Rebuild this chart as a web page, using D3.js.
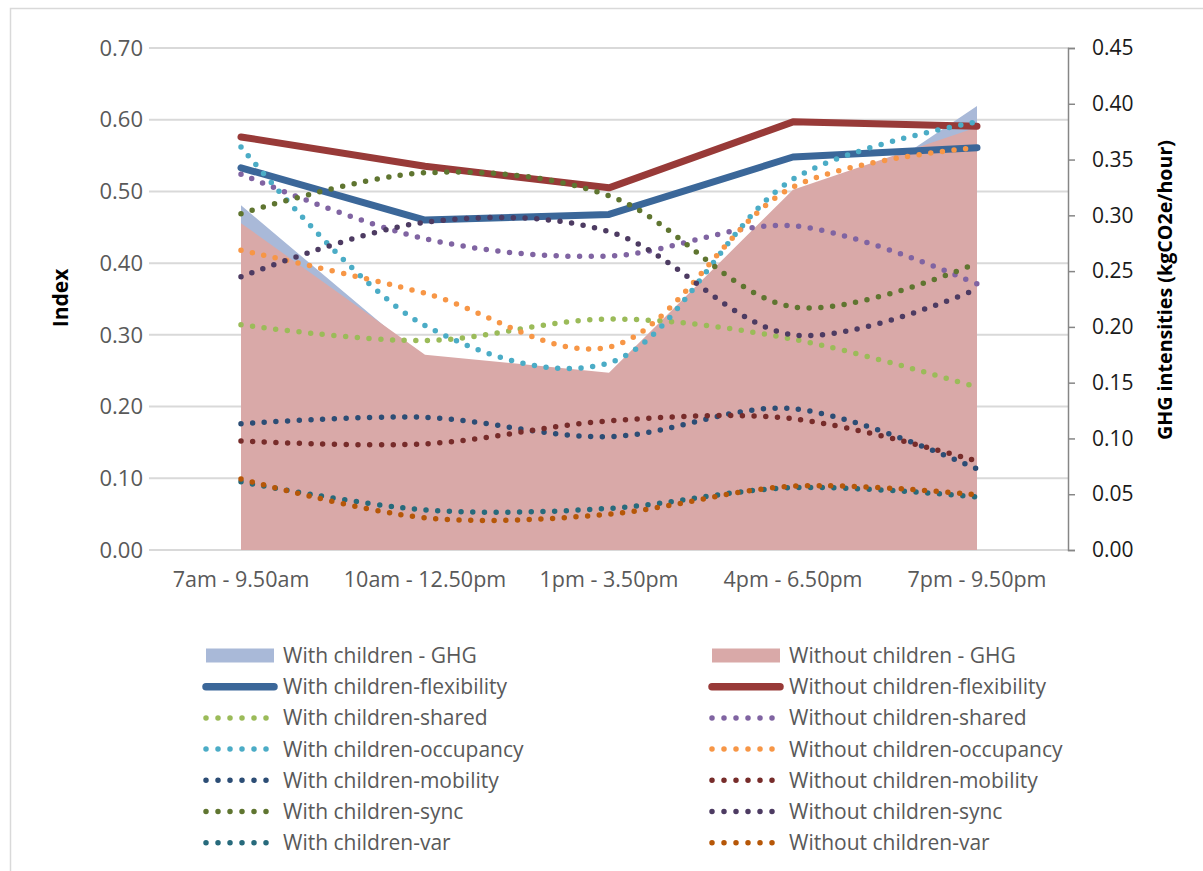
<!DOCTYPE html>
<html>
<head>
<meta charset="utf-8">
<script src="https://cdn.jsdelivr.net/npm/d3@7"></script>
<style>
  body { margin: 0; background: #fff; }
  text { font-family: "Open Sans", sans-serif; }
</style>
</head>
<body>
<div id="chart"></div>
<script>
// categories on the x axis
var categories = ["7am - 9.50am", "10am - 12.50pm", "1pm - 3.50pm", "4pm - 6.50pm", "7pm - 9.50pm"];

// GHG intensities (right axis)
var ghgWith = [0.309, 0.170, 0.150, 0.287, 0.398];
var ghgWithout = [0.293, 0.175, 0.159, 0.323, 0.379];

// index values (left axis)
var flexWith = [0.533, 0.460, 0.468, 0.548, 0.561];
var flexWithout = [0.576, 0.535, 0.505, 0.597, 0.591];
var sharedWith = [0.314, 0.292, 0.322, 0.294, 0.227];
var sharedWithout = [0.524, 0.434, 0.410, 0.452, 0.371];
var occWith = [0.562, 0.313, 0.261, 0.517, 0.597];
var occWithout = [0.418, 0.358, 0.283, 0.506, 0.561];
var mobWith = [0.176, 0.185, 0.158, 0.197, 0.113];
var mobWithout = [0.152, 0.148, 0.180, 0.183, 0.124];
var syncWith = [0.469, 0.526, 0.494, 0.339, 0.400];
var syncWithout = [0.381, 0.457, 0.444, 0.300, 0.364];
var varWith = [0.095, 0.056, 0.058, 0.087, 0.074];
var varWithout = [0.099, 0.045, 0.050, 0.089, 0.077];

// tick labels
var leftTicks = [0, 0.1, 0.2, 0.3, 0.4, 0.5, 0.6, 0.7];
var rightTicks = [0, 0.05, 0.1, 0.15, 0.2, 0.25, 0.3, 0.35, 0.4, 0.45];

// series list, in drawing order (with / without pairs like the legend)
var areas = [
  {name: "With children - GHG", values: ghgWith, color: "#a9b9d8"},
  {name: "Without children - GHG", values: ghgWithout, color: "#d9a9a8"}
];
var lines = [
  {name: "With children-flexibility", values: flexWith, color: "#3b6799", solid: true},
  {name: "Without children-flexibility", values: flexWithout, color: "#983a38", solid: true},
  {name: "With children-shared", values: sharedWith, color: "#9bbb59"},
  {name: "Without children-shared", values: sharedWithout, color: "#8064a2"},
  {name: "With children-occupancy", values: occWith, color: "#4bacc6"},
  {name: "Without children-occupancy", values: occWithout, color: "#f79646"},
  {name: "With children-mobility", values: mobWith, color: "#2c4d75"},
  {name: "Without children-mobility", values: mobWithout, color: "#772c2a"},
  {name: "With children-sync", values: syncWith, color: "#5f7530"},
  {name: "Without children-sync", values: syncWithout, color: "#4d3b62"},
  {name: "With children-var", values: varWith, color: "#276a7c"},
  {name: "Without children-var", values: varWithout, color: "#b65708"}
];

var W = 1203, H = 871;
var plot = {left: 149, right: 1069, top: 48, bottom: 550};

var svg = d3.select("#chart").append("svg")
  .attr("width", W)
  .attr("height", H);

// outer frame
svg.append("rect")
  .attr("x", 10.5).attr("y", 8.5)
  .attr("width", W).attr("height", H)
  .attr("fill", "none")
  .attr("stroke", "#d9d9d9")
  .attr("stroke-width", 1.5);

var x = d3.scalePoint().domain(categories).range([plot.left, plot.right]).padding(0.5);
var yL = d3.scaleLinear().domain([0, 0.7]).range([plot.bottom, plot.top]);
var yR = d3.scaleLinear().domain([0, 0.45]).range([plot.bottom, plot.top]);

// gridlines from the left axis
svg.append("g")
  .selectAll("line")
  .data(leftTicks)
  .enter().append("line")
  .attr("x1", plot.left).attr("x2", plot.right)
  .attr("y1", function(d){ return yL(d); })
  .attr("y2", function(d){ return yL(d); })
  .attr("stroke", "#d9d9d9")
  .attr("stroke-width", 2);

// left axis labels
svg.append("g")
  .selectAll("text")
  .data(leftTicks)
  .enter().append("text")
  .attr("x", 143)
  .attr("y", function(d){ return yL(d); })
  .attr("dy", "0.35em")
  .attr("text-anchor", "end")
  .attr("font-size", 22)
  .attr("fill", "#595959")
  .text(function(d){ return d3.format(".2f")(d); });

// right axis with outward ticks
var rightAxis = d3.axisRight(yR)
  .tickValues(rightTicks)
  .tickSize(7)
  .tickPadding(17)
  .tickFormat(d3.format(".2f"));

var gR = svg.append("g")
  .attr("transform", "translate(" + (plot.right - 1) + ",0)")
  .call(rightAxis);
gR.select(".domain").attr("stroke", "#868686").attr("stroke-width", 1.5);
gR.selectAll(".tick line").attr("stroke", "#868686").attr("stroke-width", 1.5);
gR.selectAll(".tick text")
  .attr("font-family", "Open Sans, sans-serif")
  .attr("font-size", 21)
  .attr("fill", "#1a1a1a");

// GHG areas
var area = d3.area()
  .x(function(d, i){ return x(categories[i]); })
  .y0(yR(0))
  .y1(function(d){ return yR(d); });

svg.append("g")
  .selectAll("path")
  .data(areas)
  .enter().append("path")
  .attr("d", function(d){ return area(d.values); })
  .attr("fill", function(d){ return d.color; });

// index lines: flexibility straight, the others smoothed and dotted
var straight = d3.line()
  .x(function(d, i){ return x(categories[i]); })
  .y(function(d){ return yL(d); });
var smooth = d3.line()
  .x(function(d, i){ return x(categories[i]); })
  .y(function(d){ return yL(d); })
  .curve(d3.curveCatmullRom.alpha(0.5));

svg.append("g")
  .selectAll("path")
  .data(lines)
  .enter().append("path")
  .attr("d", function(d){ return d.solid ? straight(d.values) : smooth(d.values); })
  .attr("fill", "none")
  .attr("stroke", function(d){ return d.color; })
  .attr("stroke-width", function(d){ return d.solid ? 7 : 5.5; })
  .attr("stroke-linecap", "round")
  .attr("stroke-linejoin", "round")
  .attr("stroke-dasharray", function(d){ return d.solid ? null : "0 11.7"; });

// category labels
svg.append("g")
  .selectAll("text")
  .data(categories)
  .enter().append("text")
  .attr("x", function(d){ return x(d); })
  .attr("y", 587)
  .attr("text-anchor", "middle")
  .attr("font-size", 21.5)
  .attr("fill", "#595959")
  .text(function(d){ return d; });

// axis titles
svg.append("text")
  .attr("transform", "translate(68,298) rotate(-90)")
  .attr("text-anchor", "middle")
  .attr("font-size", 21)
  .attr("font-weight", "bold")
  .attr("fill", "#000")
  .text("Index");

svg.append("text")
  .attr("transform", "translate(1172,290) rotate(-90)")
  .attr("text-anchor", "middle")
  .attr("font-size", 20)
  .attr("font-weight", "bold")
  .attr("fill", "#000")
  .attr("textLength", 300)
  .attr("lengthAdjust", "spacingAndGlyphs")
  .text("GHG intensities (kgCO2e/hour)");

// legend: two columns, rows go with / without
var legendItems = [];
areas.forEach(function(d){ legendItems.push({s: d, type: "area"}); });
lines.forEach(function(d){ legendItems.push({s: d, type: d.solid ? "solid" : "dot"}); });

var legend = svg.append("g")
  .selectAll("g")
  .data(legendItems)
  .enter().append("g")
  .attr("transform", function(d, i){
    var col = i % 2, row = Math.floor(i / 2);
    return "translate(" + (col ? 712 : 206) + "," + (655.5 + row * 31.2) + ")";
  });

legend.each(function(d){
  var g = d3.select(this);
  if (d.type == "area") {
    g.append("rect")
      .attr("x", 0).attr("y", -7)
      .attr("width", 68).attr("height", 14)
      .attr("fill", d.s.color);
  } else if (d.type == "solid") {
    g.append("line")
      .attr("x1", 0).attr("x2", 68)
      .attr("stroke", d.s.color)
      .attr("stroke-width", 7.5)
      .attr("stroke-linecap", "round");
  } else {
    g.append("line")
      .attr("x1", 0).attr("x2", 62)
      .attr("stroke", d.s.color)
      .attr("stroke-width", 5.5)
      .attr("stroke-linecap", "round")
      .attr("stroke-dasharray", "0 12");
  }
  g.append("text")
    .attr("x", 77)
    .attr("dy", "0.36em")
    .attr("font-size", 21)
    .attr("fill", "#595959")
    .text(d.s.name);
});
</script>
</body>
</html>
